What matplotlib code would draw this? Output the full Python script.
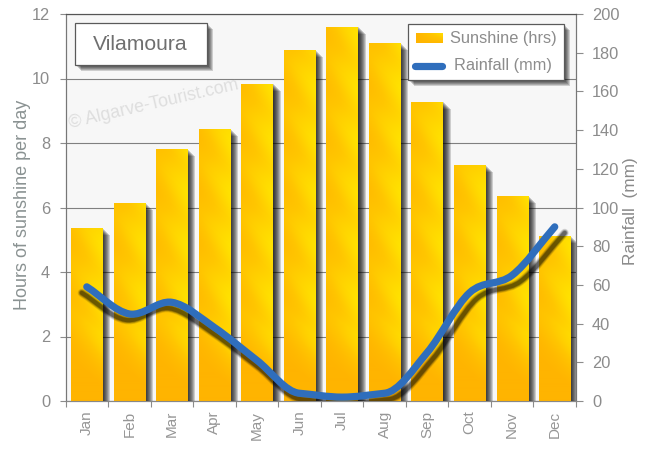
import numpy as np
import matplotlib
matplotlib.use("Agg")
import matplotlib.pyplot as plt
import matplotlib.patheffects as pe
from matplotlib.colors import LinearSegmentedColormap
from matplotlib.patches import Rectangle, PathPatch
from matplotlib.path import Path
from matplotlib.transforms import Affine2D

months = ["Jan", "Feb", "Mar", "Apr", "May", "Jun", "Jul", "Aug", "Sep", "Oct", "Nov", "Dec"]
sunshine = [5.36, 6.14, 7.81, 8.43, 9.83, 10.88, 11.6, 11.1, 9.27, 7.32, 6.36, 5.12]
rainfall = [59, 45, 51, 38, 21, 4, 2, 4, 25, 56, 65, 90]
left_ticks = [0, 2, 4, 6, 8, 10, 12]
right_ticks = [0, 20, 40, 60, 80, 100, 120, 140, 160, 180, 200]

plt.rcParams["font.family"] = ["Liberation Sans", "DejaVu Sans"]
GREY = "#8c8c8c"
W, H = 650, 450

fig = plt.figure(figsize=(6.5, 4.5), dpi=100, facecolor="white")
ax = fig.add_axes([65.5 / W, (H - 401) / H, 510.5 / W, 387 / H], facecolor="#f7f7f7")
ax2 = ax.twinx()

# pixel coords, origin top left like the picture
px = Affine2D().scale(1, -1).translate(0, H)

gold = LinearSegmentedColormap.from_list("gold", ["#ffb400", "#ffc600", "#ffe200"])


def texture(height_px):
    rows = max(int(height_px), 2)
    u, y = np.meshgrid(np.linspace(0, 1, 32), np.arange(rows)[::-1])
    t = 0.45 + 0.55 * u
    t -= 0.2 * np.cos(2 * np.pi * (y + 30 * u) / 105) ** 2
    # bottom of the bars goes flat orange
    fade = np.clip((y + 25 * u - 40) / 50, 0, 1)
    return np.clip(t, 0, 1) * fade


def box_shadow(size=4, alpha=0.17):
    return [pe.SimplePatchShadow(offset=(d * 0.72, -d * 0.72), shadow_rgbFace="k", alpha=alpha)
            for d in range(2, size + 3)] + [pe.Normal()]


# ============================
# Bars
# ============================
shadow = [pe.SimplePatchShadow(offset=(d * 0.72, -(d - 1) * 0.72), shadow_rgbFace="k", alpha=0.17)
          for d in [1, 2, 3, 4, 5, 6, 7, 8]] + [pe.Normal()]
bars = ax.bar(range(12), sunshine, width=0.735, color="#ffc800", zorder=3, path_effects=shadow)
for bar, val in zip(bars, sunshine):
    x0, w = bar.get_x(), bar.get_width()
    im = ax.imshow(texture(val * 32.25), extent=[x0, x0 + w, 0, val], cmap=gold, vmin=0, vmax=1,
                   aspect="auto", zorder=3.5, interpolation="bilinear")
    im.set_clip_path(bar)

ax.set_xlim(-0.5, 11.5)
ax.set_ylim(0, 12)
ax.set_yticks(left_ticks)
ax.set_xticks(np.arange(-0.5, 12, 1))
ax.set_xticklabels([])
ax.set_xticks(range(12), months, minor=True, rotation=90, va="top", fontsize=11, color="#969696")
ax.set_axisbelow(True)
ax.grid(axis="y", color="#808080", lw=0.8)
ax.tick_params(axis="y", length=4.5, width=0.8, color=GREY, labelcolor=GREY, labelsize=11.8, pad=6.5)
ax.tick_params(axis="x", which="major", length=4, width=0.8, color=GREY)
ax.tick_params(axis="x", which="minor", length=0, pad=7)

# ============================
# Rainfall line
# ============================
ax2.set_ylim(0, 200)
ax2.set_yticks(right_ticks)
ax2.tick_params(axis="y", length=5, width=0.8, color=GREY, labelcolor=GREY, labelsize=11.8, pad=6.5)

xs = np.arange(12.0)
ys = np.array(rainfall, dtype=float)
slopes = np.gradient(ys)
slopes[5:8] *= 0.2
verts = [(xs[0], ys[0])]
codes = [Path.MOVETO]
for i in range(11):
    verts += [(xs[i] + 1 / 3, ys[i] + slopes[i] / 3),
              (xs[i + 1] - 1 / 3, ys[i + 1] - slopes[i + 1] / 3),
              (xs[i + 1], ys[i + 1])]
    codes += [Path.CURVE4] * 3
rain_path = Path(verts, codes)

# shadow is a bit wider than the line itself
stretch = Affine2D().translate(-243, 0).scale(1.032, 1).translate(243, -6)
for lw, a in [(6.0, 0.1), (5.0, 0.15), (4.0, 0.22), (3.0, 0.3)]:
    ax2.add_patch(PathPatch(rain_path, fill=False, ec="k", lw=lw, alpha=a, capstyle="round",
                            joinstyle="round", transform=ax2.transData + stretch, zorder=4))
ax2.add_patch(PathPatch(rain_path, fill=False, ec="#2f6ebc", lw=5.2, capstyle="round",
                        joinstyle="round", zorder=5))

for a in (ax, ax2):
    a.spines["top"].set_color("#555555")
    a.spines["left"].set_color("#777777")
    a.spines["right"].set_color("#777777")
    a.spines["bottom"].set_color("#888888")
    for s in a.spines.values():
        s.set_linewidth(0.8)

# ============================
# Texts and boxes
# ============================
fig.text(23, 205, "Hours of sunshine per day", transform=px, rotation=90, ha="center", va="center",
         fontsize=13, color="#8a9292")
fig.text(631, 211, "Rainfall  (mm)", transform=px, rotation=90, ha="center", va="center",
         fontsize=12.4, color="#8a8a8a")
fig.text(70, 128, "© Algarve-Tourist.com", transform=px, rotation=13, rotation_mode="anchor",
         ha="left", va="baseline", fontsize=12.8, color="#dedede", zorder=1)

fig.add_artist(Rectangle((74.5, 22.5), 132, 42, transform=px, fc="white", ec="#5a5a5a", lw=0.9,
                         zorder=5, path_effects=box_shadow()))
fig.text(140.5, 44, "Vilamoura", transform=px, ha="center", va="center", fontsize=15.2,
         color="#6f6f6f", zorder=6)

fig.add_artist(Rectangle((407.5, 23.5), 156, 56, transform=px, fc="white", ec="#5a5a5a", lw=0.9,
                         zorder=5, path_effects=box_shadow()))
swatch = fig.add_axes([416 / W, (H - 43) / H, 26 / W, 10 / H], zorder=7)
swatch.imshow(np.linspace(0, 1, 26)[None, :] * np.linspace(1, 0.15, 10)[:, None], cmap=gold,
              vmin=0, vmax=1, aspect="auto")
swatch.axis("off")
fig.text(450, 38, "Sunshine (hrs)", transform=px, ha="left", va="center", fontsize=11.8,
         color=GREY, zorder=6)
fig.add_artist(plt.Line2D([415, 442], [65.5, 65.5], transform=px, color="#2f6ebc", lw=5.2,
                          solid_capstyle="round", zorder=6))
fig.text(454, 65.5, "Rainfall (mm)", transform=px, ha="left", va="center", fontsize=11.8,
         color=GREY, zorder=6)

fig.savefig("out.png", dpi=100)
